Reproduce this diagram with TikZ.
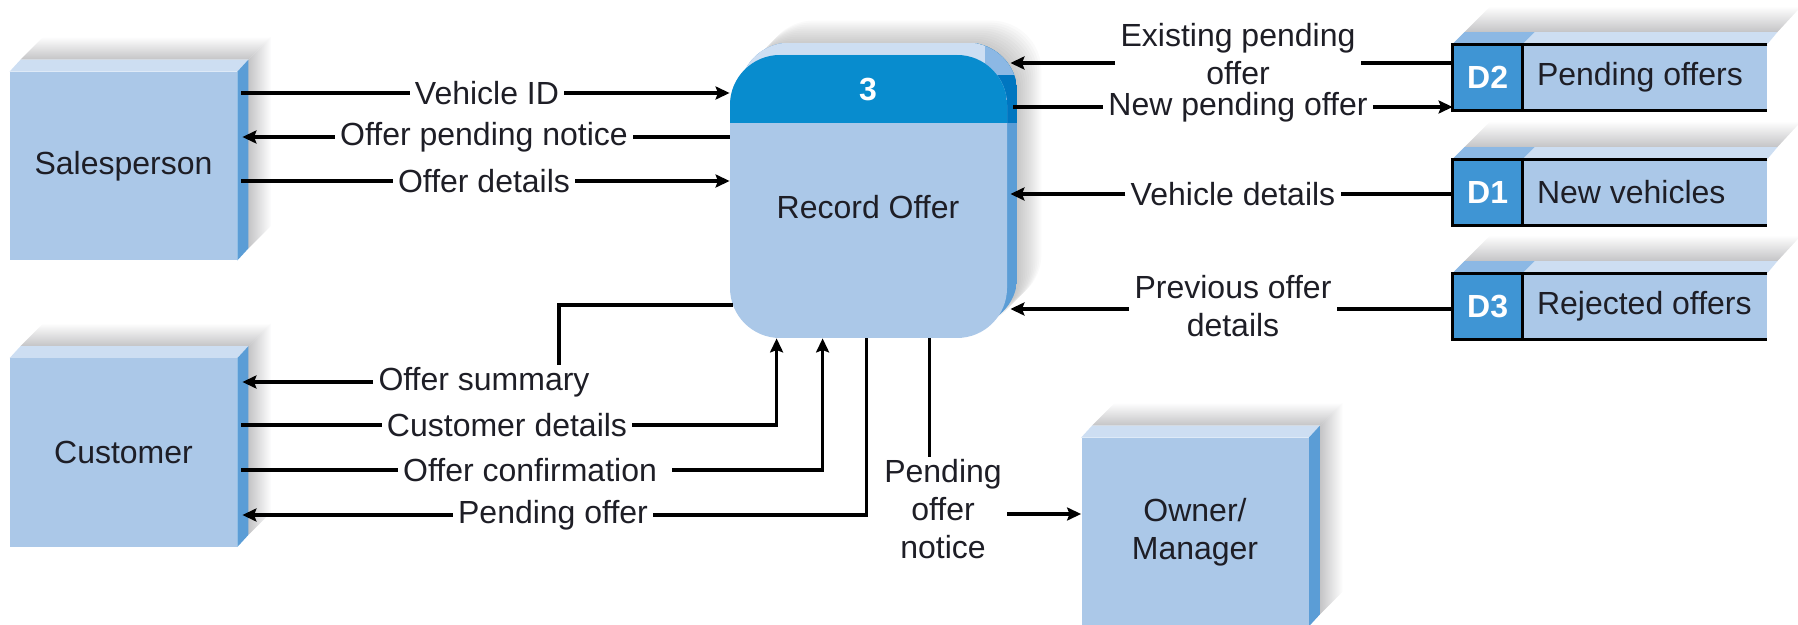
\documentclass[tikz,border=0pt]{standalone}
\usepackage{fontspec}
\setmainfont{Liberation Sans}
\usetikzlibrary{arrows.meta,calc}
\definecolor{bodyblue}{RGB}{171,200,232}
\definecolor{toplight}{RGB}{205,222,242}
\definecolor{sideblue}{RGB}{91,157,214}
\definecolor{hdr}{RGB}{8,140,206}
\definecolor{hdrside}{RGB}{0,118,192}
\definecolor{dlabel}{RGB}{63,149,212}
\definecolor{storetl}{RGB}{140,184,228}
\definecolor{txtc}{RGB}{30,30,38}
\definecolor{shadowgray}{RGB}{196,196,198}
\pgfdeclarelayer{bg}
\pgfsetlayers{bg,main}
\newcommand\entdeco[1]{%
  \shade[top color=white,bottom color=shadowgray] ([shift={(11,-12)}]#1.north west) -- ([shift={(34,-35)}]#1.north west) -- ([shift={(34,-35)}]#1.north east) -- ([shift={(11,-12)}]#1.north east) -- cycle;
  \shade[left color=shadowgray,right color=white] ([shift={(11,-12)}]#1.north east) -- ([shift={(34,-35)}]#1.north east) -- ([shift={(34,-35)}]#1.south east) -- ([shift={(11,-12)}]#1.south east) -- cycle;
  \fill[toplight] (#1.north west) -- ([shift={(11,-12)}]#1.north west) -- ([shift={(11,-12)}]#1.north east) -- (#1.north east) -- cycle;
  \fill[sideblue] (#1.north east) -- ([shift={(11,-12)}]#1.north east) -- ([shift={(11,-12)}]#1.south east) -- (#1.south east) -- cycle;
}
\newcommand\storedeco[1]{%
  \shade[top color=white,bottom color=shadowgray] ([shift={(12,-12)}]#1.north west) -- ([shift={(38,-38)}]#1.north west) -- ([shift={(34,-38)}]#1.north east) -- ([shift={(10,-12)}]#1.north east) -- cycle;
  \fill[toplight] (#1.north west) -- ([shift={(12,-12)}]#1.north west) -- ([shift={(10,-12)}]#1.north east) -- (#1.north east) -- cycle;
  \fill[storetl] (#1.north west) -- ([shift={(12,-12)}]#1.north west) -- ([shift={(82,-12)}]#1.north west) -- ([shift={(70,0)}]#1.north west) -- cycle;
}
\newcommand\storeframe[3]{%
  \fill[dlabel] (#1.north west) rectangle ([xshift=35pt]#1.south west);
  \draw[line width=1.5pt,line join=miter] (#1.north east) -- (#1.north west) -- (#1.south west) -- (#1.south east);
  \draw[line width=1.5pt] ([xshift=35pt]#1.north west) -- ([xshift=35pt]#1.south west);
  \node[text=white,font=\fontsize{16}{19}\selectfont\bfseries] (#1id) at ([xshift=17.5pt]#1.west) {#2};
  \node[anchor=west,inner xsep=0pt] (#1txt) at ([xshift=42pt]#1.west) {#3};
}
\begin{document}
\begin{tikzpicture}[x=0.5pt,y=-0.5pt,
  font=\fontsize{16}{19}\selectfont,
  every node/.style={text=txtc},
  lbl/.style={inner xsep=2.5pt,inner ysep=1pt,align=center},
  flow/.style={line width=1.6pt,draw=black},
  arr/.style={flow,-{Stealth[length=7pt,width=6.5pt,inset=1.2pt]}},
  ent/.style={fill=bodyblue,minimum width=113.5pt,minimum height=94pt,inner sep=0pt,align=center},
  proc/.style={fill=bodyblue,minimum width=138.5pt,minimum height=141.5pt,inner sep=0pt,rounded corners=25pt,
    path picture={\fill[hdr,sharp corners] (path picture bounding box.north west) rectangle ([yshift=-34pt]path picture bounding box.north east);}},
  store/.style={fill=bodyblue,minimum width=157pt,minimum height=33pt,inner sep=0pt}]
\useasboundingbox (0,0) rectangle (1798,625);

% external entities
\node[ent] (sp) at (123.5,166) {Salesperson};
\node[ent] (cu) at (123.5,452.5) {Customer};
\node[ent] (om) at (1195,532) {Owner/\\Manager};

% process
\node[proc] (p) at (868.5,196.5) {};
\node[text=white,font=\fontsize{16}{19}\selectfont\bfseries] (pid) at (868,90) {3};
\node (pname) at (868,207) {Record Offer};

% data stores
\node[store] (d2) at (1610,77.5) {};
\node[store] (d1) at (1610,192.5) {};
\node[store] (d3) at (1610,306.5) {};
\storeframe{d2}{D2}{Pending offers}
\storeframe{d1}{D1}{New vehicles}
\storeframe{d3}{D3}{Rejected offers}

\begin{pgfonlayer}{bg}
  \entdeco{sp}
  \entdeco{cu}
  \entdeco{om}
  \storedeco{d2}
  \storedeco{d1}
  \storedeco{d3}
  \foreach \s in {12,14,...,34}
    \fill[black,opacity=0.02,rounded corners=25pt] ([shift={(\s,-\s)}]p.south west) rectangle ([shift={(\s,-\s)}]p.north east);
  \begin{scope}
    \clip[rounded corners=25pt] ([shift={(10,-12)}]p.south west) rectangle ([shift={(10,-12)}]p.north east);
    \fill[sideblue] ([shift={(10,-12)}]p.south west) rectangle ([shift={(10,-12)}]p.north east);
    \fill[hdrside] ([shift={(-30,-12)}]p.north east) rectangle ([shift={(10,68)}]p.north east);
    \fill[toplight] ([shift={(10,-12)}]p.north west) rectangle ([shift={(-22,30)}]p.north east);
    \fill[storetl] ([shift={(-22,-12)}]p.north east) -- ([shift={(10,-12)}]p.north east) -- ([shift={(10,20)}]p.north east) -- ([shift={(-22,20)}]p.north east) -- cycle;
  \end{scope}
\end{pgfonlayer}

% flow labels
\node[lbl] (lvid) at (487,93) {Vehicle ID};
\node[lbl] (lopn) at (484,137) {Offer pending notice};
\node[lbl] (lod) at (484,181) {Offer details};
\node[lbl] (los) at (484,382) {Offer summary};
\node[lbl] (lcd) at (507,425) {Customer details};
\node[lbl] (loc) at (530,470) {Offer confirmation};
\node[lbl] (lpo) at (553,515) {Pending offer};
\node[lbl] (lpon) at (943,509) {Pending\\offer\\notice};
\node[lbl] (lepo) at (1238,54) {Existing pending\\offer};
\node[lbl] (lnpo) at (1238,107) {New pending offer};
\node[lbl] (lvd) at (1233,194) {Vehicle details};
\node[lbl] (lpod) at (1233,306) {Previous offer\\details};

% helper coordinates
\coordinate (pb1) at ([xshift=23.5pt]p.south west);
\coordinate (pb2) at ([xshift=46.5pt]p.south west);
\coordinate (pb3) at ([xshift=68.5pt]p.south west);
\coordinate (pb4) at ([xshift=100pt]p.south west);
\coordinate (osy) at (559,305);
\coordinate (e1) at (1238,63);
\coordinate (e2) at (1233,309);
\coordinate (ponA) at ([yshift=-2.5pt]lpon.east);

% Salesperson flows
\draw[flow] ([xshift=2pt]sp.east |- lvid) -- (lvid.west);
\draw[arr] (lvid.east) -- (p.west |- lvid);
\draw[flow] (p.west |- lopn) -- (lopn.east);
\draw[arr] (lopn.west) -- ([xshift=2.5pt]sp.east |- lopn);
\draw[flow] ([xshift=2pt]sp.east |- lod) -- (lod.west);
\draw[arr] (lod.east) -- (p.west |- lod);

% Customer flows
\draw[flow] ([xshift=1.5pt]p.west |- osy) -| (osy |- los.north);
\draw[arr] (los.west) -- ([xshift=2.5pt]cu.east |- los);
\draw[flow] ([xshift=2pt]cu.east |- lcd) -- (lcd.west);
\draw[arr] (lcd.east) -| (pb1);
\draw[flow] ([xshift=2pt]cu.east |- loc) -- (loc.west);
\draw[arr] ([xshift=5pt]loc.east) -| (pb2);
\draw[flow] (pb3) |- (lpo.east);
\draw[arr] (lpo.west) -- ([xshift=2.5pt]cu.east |- lpo);

% Owner/Manager flow
\draw[flow] (pb4) -- (pb4 |- lpon.north);
\draw[arr] (ponA) -- (om.west |- ponA);

% data store flows
\draw[flow] (d2.west |- e1) -- (lepo.east |- e1);
\draw[arr] (lepo.west |- e1) -- ([xshift=1.5pt]p.east |- e1);
\draw[flow] ([xshift=3pt]p.east |- lnpo) -- (lnpo.west);
\draw[arr] (lnpo.east) -- (d2.west |- lnpo);
\draw[flow] (d1.west |- lvd) -- (lvd.east);
\draw[arr] (lvd.west) -- ([xshift=1.5pt]p.east |- lvd);
\draw[flow] (d3.west |- e2) -- (lpod.east |- e2);
\draw[arr] (lpod.west |- e2) -- ([xshift=1.5pt]p.east |- e2);
\end{tikzpicture}
\end{document}
